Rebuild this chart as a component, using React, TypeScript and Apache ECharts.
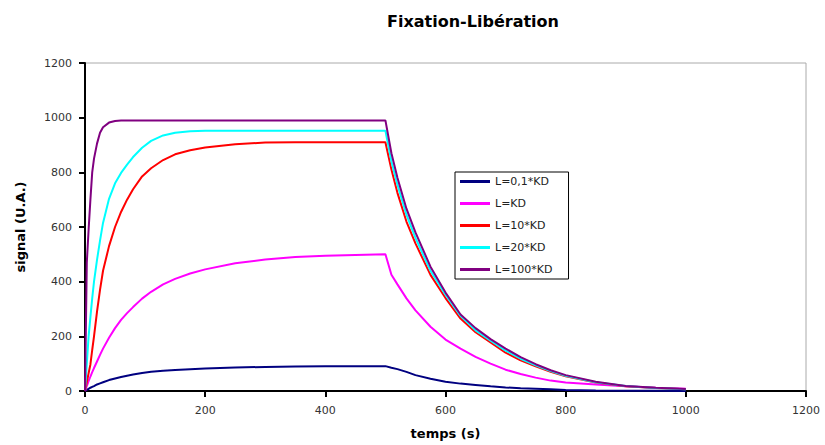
import React, { useEffect, useRef } from "react";
import * as echarts from "echarts";

const times = [0, 3, 6, 9, 12, 15, 20, 25, 30, 40, 50, 60, 70, 80, 95, 110, 130, 150, 175, 200, 250, 300, 350, 400, 450, 500, 510, 520, 535, 550, 575, 600, 625, 650, 675, 700, 725, 750, 775, 800, 850, 900, 950, 1000];

const l01 = [0, 4, 8, 12, 15, 18, 24, 28, 32, 40, 46, 51, 56, 60, 66, 70, 74, 77, 80, 82, 86, 88, 90, 91, 91, 91, 85, 80, 70, 58, 45, 34, 27, 22, 17, 13, 10, 8, 6, 4, 2, 1, 1, 0];
const l1 = [0, 18, 36, 53, 69, 84, 108, 132, 155, 195, 230, 260, 285, 307, 338, 363, 390, 410, 430, 445, 467, 481, 490, 495, 498, 500, 425, 390, 339, 295, 235, 188, 155, 125, 100, 78, 62, 49, 38, 31, 24, 17, 12, 8];
const l10 = [0, 32, 65, 97, 150, 200, 290, 370, 440, 530, 600, 655, 700, 738, 785, 815, 845, 866, 881, 891, 903, 909, 910, 910, 910, 910, 810, 725, 620, 540, 425, 340, 265, 215, 178, 140, 112, 90, 70, 54, 31, 17, 11, 6];
const l20 = [0, 100, 200, 270, 339, 400, 480, 550, 615, 703, 760, 798, 828, 856, 890, 915, 935, 945, 950, 952, 952, 952, 952, 952, 952, 952, 840, 755, 645, 560, 440, 352, 275, 222, 184, 148, 118, 94, 73, 56, 32, 18, 11, 6];
const l100 = [0, 470, 590, 700, 800, 850, 905, 945, 965, 982, 988, 990, 990, 990, 990, 990, 990, 990, 990, 990, 990, 990, 990, 990, 990, 990, 870, 780, 667, 580, 455, 360, 280, 230, 190, 155, 124, 98, 76, 58, 34, 18, 12, 7];

const seriesNames = ["L=0,1*KD", "L=KD", "L=10*KD", "L=20*KD", "L=100*KD"];
const seriesValues = [l01, l1, l10, l20, l100];
const seriesColors = ["#000080", "#FF00FF", "#FF0000", "#00FFFF", "#800080"];

const xTicks = [0, 200, 400, 600, 800, 1000, 1200];
const yTicks = [0, 200, 400, 600, 800, 1000, 1200];

export default function App() {
  const ref = useRef<HTMLDivElement>(null);
  useEffect(() => {
    if (!ref.current) return;
    const chart = echarts.init(ref.current, undefined, { renderer: "svg" });
    const labelStyle = {
      color: "#333",
      fontSize: 11,
      fontFamily: "DejaVu Sans",
      formatter: (v: number) => String(v),
    };
    chart.setOption({
      animation: false,
      backgroundColor: "#fff",
      title: {
        text: "Fixation-Libération",
        left: 468,
        top: 8,
        textAlign: "center",
        textStyle: { fontSize: 16, fontWeight: "bold", fontFamily: "DejaVu Sans", color: "#000" },
      },
      grid: {
        left: 85,
        right: 19,
        top: 63,
        bottom: 52,
        show: true,
        borderColor: "#aaa",
        borderWidth: 1,
        backgroundColor: "transparent",
      },
      legend: {
        orient: "vertical",
        left: 455,
        top: 172,
        data: seriesNames,
        icon: "rect",
        itemWidth: 30,
        itemHeight: 3,
        itemGap: 11,
        padding: [4, 16, 4, 5],
        borderColor: "#000",
        borderWidth: 1,
        backgroundColor: "#fff",
        textStyle: { fontSize: 11, fontFamily: "DejaVu Sans", color: "#222" },
      },
      xAxis: {
        type: "value",
        min: xTicks[0],
        max: xTicks[xTicks.length - 1],
        interval: 200,
        splitLine: { show: false },
        name: "temps (s)",
        nameLocation: "middle",
        nameGap: 36,
        nameTextStyle: { fontSize: 13, fontWeight: "bold", fontFamily: "DejaVu Sans", color: "#000" },
        axisLine: { lineStyle: { color: "#000", width: 2 } },
        axisTick: { show: true, length: 6, lineStyle: { color: "#000", width: 2 } },
        axisLabel: { ...labelStyle, margin: 14 },
      },
      yAxis: {
        type: "value",
        min: yTicks[0],
        max: yTicks[yTicks.length - 1],
        interval: 200,
        splitLine: { show: false },
        name: "signal (U.A.)",
        nameLocation: "middle",
        nameGap: 58,
        nameTextStyle: { fontSize: 13, fontWeight: "bold", fontFamily: "DejaVu Sans", color: "#000" },
        axisLine: { show: true, lineStyle: { color: "#000", width: 2 } },
        axisTick: { show: true, length: 6, lineStyle: { color: "#000", width: 2 } },
        axisLabel: { ...labelStyle, margin: 13 },
      },
      series: seriesNames.map((name, si) => ({
        name,
        type: "line",
        symbol: "none",
        smooth: false,
        color: seriesColors[si],
        lineStyle: { color: seriesColors[si], width: 2 },
        data: times.map((t, i) => [t, seriesValues[si][i]]),
      })),
    });
    return () => chart.dispose();
  }, []);
  return (
    <div
      ref={ref}
      style={{ position: "fixed", left: 0, top: 0, width: 825, height: 445, background: "#fff" }}
    />
  );
}
